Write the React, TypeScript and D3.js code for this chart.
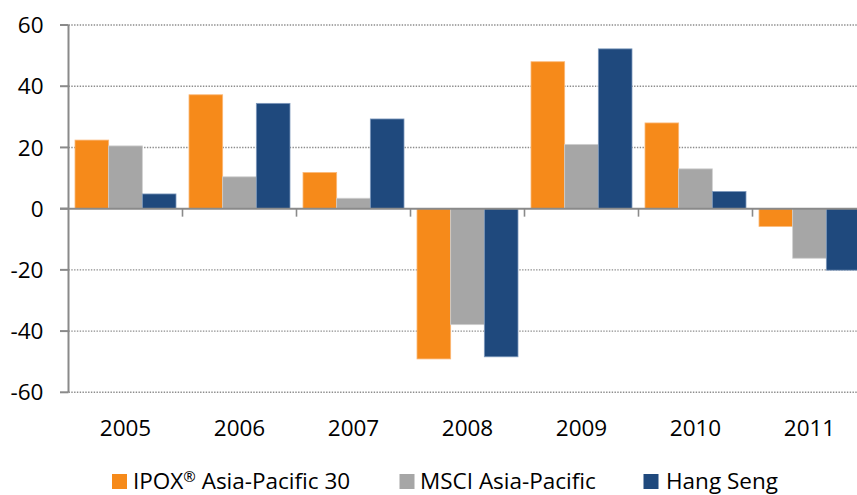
import React from "react";
import * as d3 from "d3";

const years = ["2005", "2006", "2007", "2008", "2009", "2010", "2011"];
const seriesNames = ["IPOX® Asia-Pacific 30", "MSCI Asia-Pacific", "Hang Seng"];
const ipox = [22.4, 37.2, 11.8, -49.1, 48.0, 28.0, -5.8];
const msci = [20.5, 10.4, 3.4, -37.9, 21.0, 13.0, -16.2];
const hangSeng = [4.8, 34.4, 29.3, -48.4, 52.2, 5.6, -20.1];
const yTicks = [-60, -40, -20, 0, 20, 40, 60];
const colors = ["#F68A1A", "#A6A6A6", "#1F497D"];
const strokes = ["#FBB877", "#CFCFCF", "#7E99BC"];

const W = 857;
const H = 495;
const FONT = "'Open Sans', sans-serif";

function renderName(n: string) {
  const idx = n.indexOf("®");
  if (idx < 0) return n;
  return (
    <>
      {n.slice(0, idx)}
      <tspan fontSize={15} dy={-7}>®</tspan>
      <tspan dy={7}>{n.slice(idx + 1)}</tspan>
    </>
  );
}

export default function App() {
  const series = [ipox, msci, hangSeng];
  const x0 = d3.scaleBand<string>().domain(years).range([68.5, 866.5]).padding(0);
  const inner = x0.bandwidth();
  const x1 = d3
    .scaleBand<number>()
    .domain([0, 1, 2])
    .range([6.5, inner - 6.5])
    .padding(0);
  const y = d3.scaleLinear().domain([-60, 60]).range([392.3, 25]);
  const y0 = y(0);
  const axisColor = "#8A8A8A";

  const legendItems = [
    { sq: 112, tx: 133 },
    { sq: 399.5, tx: 420 },
    { sq: 643.5, tx: 666 },
  ];

  return (
    <svg
      width={W}
      height={H}
      style={{ position: "absolute", left: 0, top: 0, background: "#fff" }}
      fontFamily={FONT}
    >
      {yTicks
        .filter((t) => t !== 0)
        .map((t) => (
          <line
            key={"g" + t}
            x1={68.5}
            x2={W}
            y1={y(t)}
            y2={y(t)}
            stroke="#8C8C8C"
            strokeWidth={1.4}
            strokeDasharray="1.4,1.4"
          />
        ))}
      {years.map((yr, i) => (
        <g key={yr} transform={`translate(${x0(yr)},0)`}>
          {series.map((s, j) => {
            const v = s[i];
            const top = Math.min(y(v), y0);
            const h = Math.abs(y(v) - y0);
            return (
              <rect
                key={j}
                x={x1(j)}
                y={top}
                width={x1.bandwidth()}
                height={h}
                fill={colors[j]}
                stroke={strokes[j]}
                strokeWidth={0.8}
              />
            );
          })}
        </g>
      ))}
      <line x1={68.5} x2={68.5} y1={y(60)} y2={y(-60)} stroke={axisColor} strokeWidth={2} />
      {yTicks.map((t) => (
        <g key={"t" + t}>
          <line x1={60} x2={68.5} y1={y(t)} y2={y(t)} stroke={axisColor} strokeWidth={2} />
          <text
            x={43.5}
            y={y(t)}
            dy="0.36em"
            textAnchor="end"
            fontSize={22.5}
            fill="#000"
          >
            {t}
          </text>
        </g>
      ))}
      <line x1={60} x2={W} y1={y0} y2={y0} stroke={axisColor} strokeWidth={2} />
      {years.map((yr) => (
        <line
          key={"ct" + yr}
          x1={(x0(yr) as number) + inner}
          x2={(x0(yr) as number) + inner}
          y1={y0}
          y2={y0 + 8}
          stroke={axisColor}
          strokeWidth={1.6}
        />
      ))}
      {years.map((yr) => (
        <text
          key={"xl" + yr}
          x={(x0(yr) as number) + inner / 2}
          y={436}
          textAnchor="middle"
          fontSize={22.5}
          fill="#000"
        >
          {yr}
        </text>
      ))}
      {seriesNames.map((n, j) => (
        <g key={n}>
          <rect x={legendItems[j].sq} y={474} width={15} height={15} fill={colors[j]} />
          <text x={legendItems[j].tx} y={489} fontSize={22.5} fill="#000">
            {renderName(n)}
          </text>
        </g>
      ))}
    </svg>
  );
}
